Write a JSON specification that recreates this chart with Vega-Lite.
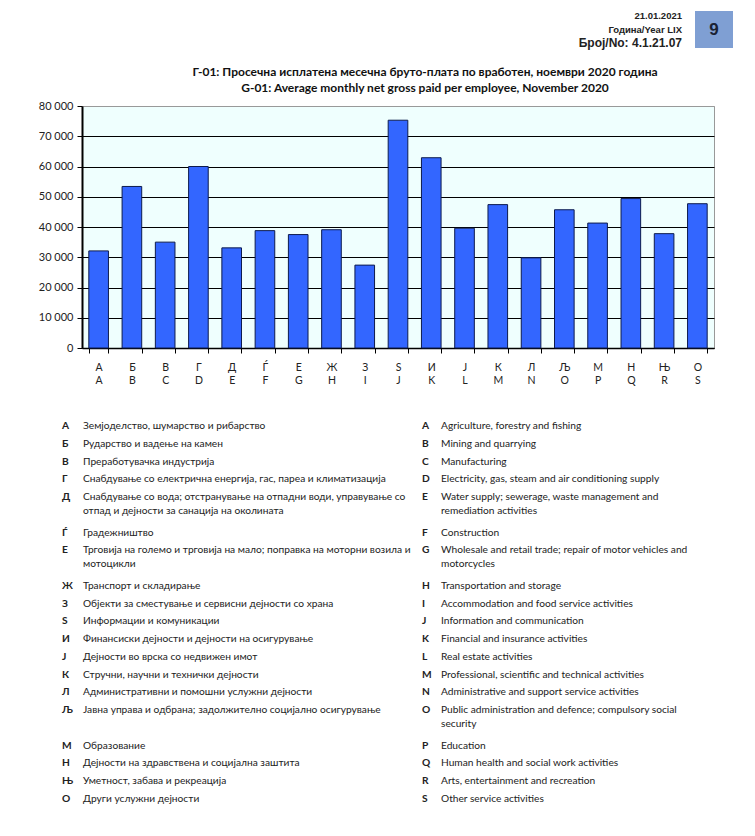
{
  "$schema": "https://vega.github.io/schema/vega-lite/v6.json",
  "padding": {"left": 37, "top": 11, "right": 5, "bottom": 5},
  "background": "white",
  "config": {"view": {"stroke": null}, "font": "Lato, Open Sans, sans-serif"},
  "bounds": "flush",
  "spacing": 58,
  "vconcat": [
    {
      "width": 632,
      "height": 37,
      "resolve": {"scale": {"y": "independent", "x": "independent"}},
      "layer": [
        {
          "data": {"values": [{"page": "9"}]},
          "mark": {"type": "rect", "fill": "#7f9fd3"},
          "encoding": {
            "x": {"field": "page", "type": "nominal", "scale": {"type": "band", "range": [613, 651], "paddingInner": 0, "paddingOuter": 0}, "axis": null},
            "y": {"field": "page", "type": "nominal", "scale": {"type": "band", "range": [0, 37], "paddingInner": 0, "paddingOuter": 0}, "axis": null}
          }
        },
        {
          "data": {"values": [{"page": "9"}]},
          "mark": {"type": "text", "fontSize": 17, "fontWeight": "bold", "font": "Liberation Sans", "color": "#1a2233", "baseline": "middle"},
          "encoding": {
            "x": {"field": "page", "type": "nominal", "scale": {"type": "band", "range": [613, 651], "paddingInner": 0, "paddingOuter": 0}, "axis": null},
            "y": {"field": "page", "type": "nominal", "scale": {"type": "band", "range": [0, 37], "paddingInner": 0, "paddingOuter": 0}, "axis": null},
            "text": {"field": "page"}
          }
        },
        {
          "data": {"values": [
            {"line": 1, "text": "21.01.2021"},
            {"line": 2, "text": "Година/Year LIX"},
            {"line": 3, "text": "Број/No: 4.1.21.07"}
          ]},
          "mark": {"type": "text", "align": "right", "baseline": "middle", "font": "Liberation Sans", "fontWeight": "bold", "color": "#222", "x": 600},
          "encoding": {
            "y": {"field": "line", "type": "ordinal", "scale": {"type": "point", "range": [5, 32], "padding": 0}, "axis": null},
            "text": {"field": "text"},
            "size": {"condition": {"test": "datum.line === 3", "value": 12}, "value": 9.5}
          }
        }
      ]
    },
    {
      "width": 632,
      "height": 242,
      "title": {
        "text": ["Г-01: Просечна исплатена месечна бруто-плата по вработен, ноември 2020 година", "G-01: Average monthly net gross paid per employee, November 2020"],
        "fontSize": 12,
        "fontWeight": "bold",
        "lineHeight": 16,
        "anchor": "middle",
        "dx": 27,
        "offset": 5,
        "color": "#111"
      },
      "view": {"fill": "#effffe", "stroke": "#999"},
      "data": {"values": [
        {"code": "А|A", "value": 32100},
        {"code": "Б|B", "value": 53400},
        {"code": "В|C", "value": 35000},
        {"code": "Г|D", "value": 60000},
        {"code": "Д|E", "value": 33100},
        {"code": "Ѓ|F", "value": 38800},
        {"code": "Е|G", "value": 37500},
        {"code": "Ж|H", "value": 39100},
        {"code": "З|I", "value": 27400},
        {"code": "Ѕ|J", "value": 75300},
        {"code": "И|K", "value": 62900},
        {"code": "Ј|L", "value": 39600},
        {"code": "К|M", "value": 47400},
        {"code": "Л|N", "value": 29800},
        {"code": "Љ|O", "value": 45700},
        {"code": "М|P", "value": 41300},
        {"code": "Н|Q", "value": 49400},
        {"code": "Њ|R", "value": 37800},
        {"code": "О|S", "value": 47700}
      ]},
      "mark": {"type": "bar", "color": "#3366ff", "stroke": "#0d1b4d", "strokeWidth": 1},
      "encoding": {
        "x": {
          "field": "code", "type": "nominal", "sort": null,
          "scale": {"paddingInner": 0.41, "paddingOuter": 0.205},
          "axis": {"title": null, "labelAngle": 0, "labelExpr": "isValid(datum.value) ? split(datum.value, '|') : ''", "tickBand": "extent", "domainColor": "#000", "domainWidth": 1.5, "tickColor": "#000", "tickSize": 5, "labelFontSize": 10.5, "labelColor": "#222", "labelLineHeight": 13, "labelPadding": 9}
        },
        "y": {
          "field": "value", "type": "quantitative",
          "scale": {"domain": [0, 80000]},
          "axis": {"title": null, "values": [0, 10000, 20000, 30000, 40000, 50000, 60000, 70000, 80000], "labelExpr": "replace(format(datum.value, ','), ',', ' ')", "grid": true, "gridColor": {"condition": {"test": "datum.value === 80000", "value": "#999"}, "value": "#000"}, "gridWidth": 1, "domainColor": "#000", "domainWidth": 2, "tickColor": "#000", "tickSize": 5, "labelFontSize": 11, "labelColor": "#222", "labelPadding": 4}
        }
      }
    },
    {
      "width": 632,
      "height": 400,
      "data": {"values": [
        {"line": 0, "code_mk": "А", "label_mk": "Земјоделство, шумарство и рибарство", "code_en": "A", "label_en": "Agriculture, forestry and fishing"},
        {"line": 1, "code_mk": "Б", "label_mk": "Рударство и вадење на камен", "code_en": "B", "label_en": "Mining and quarrying"},
        {"line": 2, "code_mk": "В", "label_mk": "Преработувачка индустрија", "code_en": "C", "label_en": "Manufacturing"},
        {"line": 3, "code_mk": "Г", "label_mk": "Снабдување со електрична енергија, гас, пареа и климатизација", "code_en": "D", "label_en": "Electricity, gas, steam and air conditioning supply"},
        {"line": 4, "code_mk": "Д", "label_mk": "Снабдување со вода; отстранување на отпадни води, управување со\nотпад и дејности за санација на околината", "code_en": "E", "label_en": "Water supply; sewerage, waste management and\nremediation activities"},
        {"line": 6, "code_mk": "Ѓ", "label_mk": "Градежништво", "code_en": "F", "label_en": "Construction"},
        {"line": 7, "code_mk": "Е", "label_mk": "Трговија на големо и трговија на мало; поправка на моторни возила и\nмотоцикли", "code_en": "G", "label_en": "Wholesale and retail trade; repair of motor vehicles and\nmotorcycles"},
        {"line": 9, "code_mk": "Ж", "label_mk": "Транспорт и складирање", "code_en": "H", "label_en": "Transportation and storage"},
        {"line": 10, "code_mk": "З", "label_mk": "Објекти за сместување и сервисни дејности со храна", "code_en": "I", "label_en": "Accommodation and food service activities"},
        {"line": 11, "code_mk": "Ѕ", "label_mk": "Информации и комуникации", "code_en": "J", "label_en": "Information and communication"},
        {"line": 12, "code_mk": "И", "label_mk": "Финансиски дејности и дејности на осигурување", "code_en": "K", "label_en": "Financial and insurance activities"},
        {"line": 13, "code_mk": "Ј", "label_mk": "Дејности во врска со недвижен имот", "code_en": "L", "label_en": "Real estate activities"},
        {"line": 14, "code_mk": "К", "label_mk": "Стручни, научни и технички дејности", "code_en": "M", "label_en": "Professional, scientific and technical activities"},
        {"line": 15, "code_mk": "Л", "label_mk": "Административни и помошни услужни дејности", "code_en": "N", "label_en": "Administrative and support service activities"},
        {"line": 16, "code_mk": "Љ", "label_mk": "Јавна управа и одбрана; задолжително социјално осигурување", "code_en": "O", "label_en": "Public administration and defence; compulsory social\nsecurity"},
        {"line": 18, "code_mk": "М", "label_mk": "Образование", "code_en": "P", "label_en": "Education"},
        {"line": 19, "code_mk": "Н", "label_mk": "Дејности на здравствена и социјална заштита", "code_en": "Q", "label_en": "Human health and social work activities"},
        {"line": 20, "code_mk": "Њ", "label_mk": "Уметност, забава и рекреација", "code_en": "R", "label_en": "Arts, entertainment and recreation"},
        {"line": 21, "code_mk": "О", "label_mk": "Други услужни дејности", "code_en": "S", "label_en": "Other service activities"}
      ]},
      "encoding": {
        "y": {"field": "line", "type": "quantitative", "scale": {"domain": [0, 21], "range": [23, 396]}, "axis": null}
      },
      "layer": [
        {
          "mark": {"type": "text", "align": "left", "baseline": "alphabetic", "fontWeight": "bold", "fontSize": 10.2, "color": "#222"},
          "encoding": {
            "x": {"datum": "mk", "type": "nominal", "scale": {"type": "point", "domain": ["mk", "en"], "range": [-20, 340], "padding": 0}, "axis": null},
            "text": {"field": "code_mk"}
          }
        },
        {
          "mark": {"type": "text", "align": "left", "baseline": "alphabetic", "fontSize": 10.2, "color": "#222", "dx": 21, "lineBreak": "\n", "lineHeight": 14},
          "encoding": {
            "x": {"datum": "mk", "type": "nominal", "scale": {"type": "point", "domain": ["mk", "en"], "range": [-20, 340], "padding": 0}, "axis": null},
            "text": {"field": "label_mk"}
          }
        },
        {
          "mark": {"type": "text", "align": "left", "baseline": "alphabetic", "fontWeight": "bold", "fontSize": 10.2, "color": "#222"},
          "encoding": {
            "x": {"datum": "en", "type": "nominal", "scale": {"type": "point", "domain": ["mk", "en"], "range": [-20, 340], "padding": 0}, "axis": null},
            "text": {"field": "code_en"}
          }
        },
        {
          "mark": {"type": "text", "align": "left", "baseline": "alphabetic", "fontSize": 10.2, "color": "#222", "dx": 19, "lineBreak": "\n", "lineHeight": 14},
          "encoding": {
            "x": {"datum": "en", "type": "nominal", "scale": {"type": "point", "domain": ["mk", "en"], "range": [-20, 340], "padding": 0}, "axis": null},
            "text": {"field": "label_en"}
          }
        }
      ]
    }
  ]
}
